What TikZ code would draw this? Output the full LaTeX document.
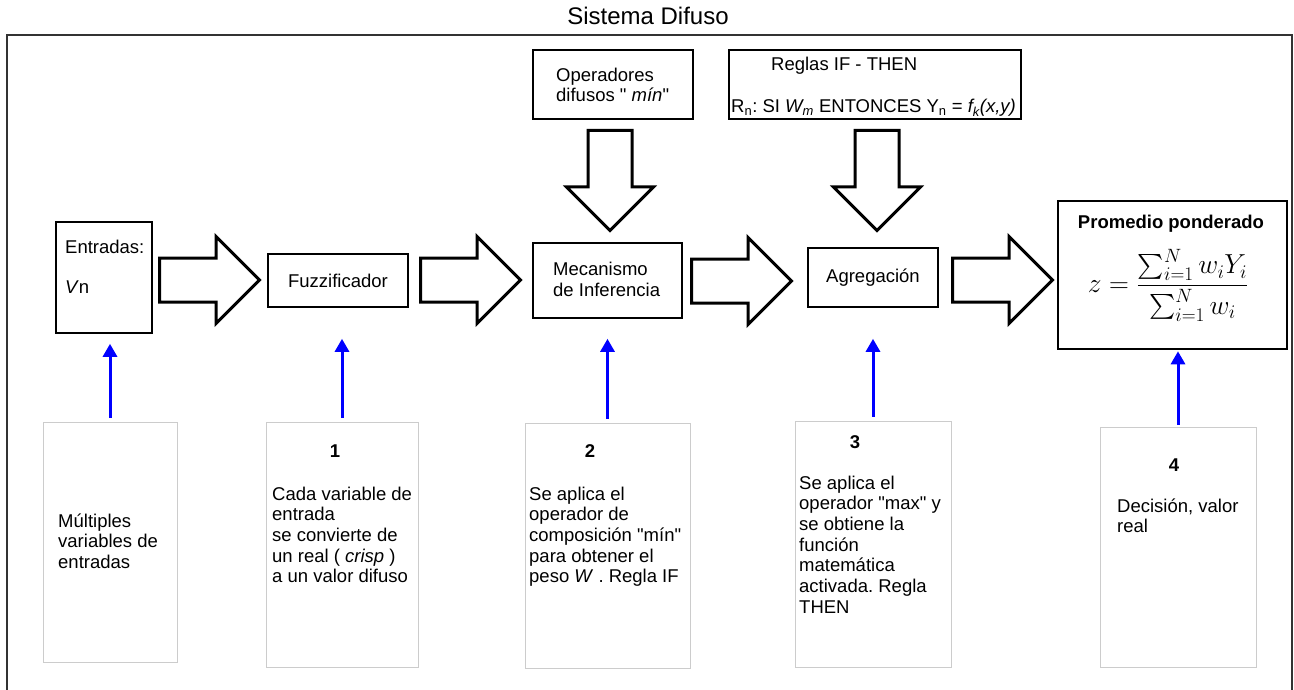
\RequirePackage{fix-cm}
\documentclass[tikz,border=0pt]{standalone}
\usepackage{amsmath}
\usepackage{fontspec}
\setmainfont{Liberation Sans}[Ligatures=TeXOff]
\usetikzlibrary{arrows.meta,shapes.arrows}

\begin{document}
\frenchspacing
\begin{tikzpicture}[x=1pt, y=-1pt,
	font=\fontsize{18.5}{20.7}\selectfont,
	box/.style={draw, line width=1.6pt, inner sep=0pt},
	note/.style={draw=black!20, line width=1pt, inner sep=0pt},
	txt/.style={inner sep=0pt, align=left, anchor=base west},
	num/.style={inner sep=0pt, anchor=base, font=\fontsize{18.5}{20.7}\selectfont\bfseries},
	fat/.style={single arrow, draw, line width=3pt, inner sep=0pt, anchor=tail,
		text height=20.5pt, text depth=20.5pt, single arrow head extend=21.5pt,
		minimum height=100pt},
	up/.style={blue, line width=3pt, -{Triangle[length=13pt, width=14pt]}}]

	\path[use as bounding box, fill=white] (0,0) rectangle (1294,690);
	\node[anchor=base, inner sep=0pt, font=\fontsize{24}{28}\selectfont] (T) at (648,25) {Sistema Difuso};
	\draw[black!80, line width=1.2pt] (7,700) -- (7,35) -- (1292,35) -- (1292,700);

	% upper row (multi-line texts sit on their last baseline)
	\node[box, minimum width=96pt, minimum height=111pt] (E) at (104,277.5) {};
	\node[txt] at (65,293) {Entradas:\\[19pt]\textit{V}n};
	\node[box, minimum width=140pt, minimum height=53pt] (F) at (338,280.5) {Fuzzificador};
	\node[box, minimum width=149pt, minimum height=75pt] (M) at (607.5,280.5) {};
	\node[txt] at (553,296) {Mecanismo\\de Inferencia};
	\node[box, minimum width=130pt, minimum height=59pt] (A) at (873,277.5) {Agregación};
	\node[box, line width=2.6pt, minimum width=229pt, minimum height=148pt] (P) at (1172.5,275) {};
	\node[num] at (1171,228) {Promedio ponderado};
	\node[inner sep=0pt, font=\fontsize{27.5}{32}\selectfont] (Z) at (1168,285)
		{$\displaystyle z=\frac{\sum_{i=1}^{N} w_iY_i}{\sum_{i=1}^{N} w_i}$};

	\node[box, minimum width=160pt, minimum height=69pt] (O) at (613,84.5) {};
	\node[txt] at (556,102) {Operadores\\difusos " \textit{mín}"};
	\node[box, minimum width=292pt, minimum height=69pt] (R) at (875,84.5) {};
	\node[txt] at (771,71) {Reglas IF - THEN};
	\node[txt] at (731,113) {R\textsubscript{n}: SI \textit{W\textsubscript{m}} ENTONCES Y\textsubscript{n} = \textit{f\textsubscript{k}(x,y)}};

	% block arrows
	\node[fat] (a1) at (158,280) {};
	\node[fat] (a2) at (419,280) {};
	\node[fat] (a3) at (690,281) {};
	\node[fat] (a4) at (951,280) {};
	\node[fat, rotate=-90] (d1) at (610,129) {};
	\node[fat, rotate=-90] (d2) at (877,129) {};

	% lower row
	\node[note, minimum width=134pt, minimum height=240pt] (N0) at (110,542) {};
	\node[note, minimum width=152pt, minimum height=245pt] (N1) at (342,544.5) {};
	\node[note, minimum width=165pt, minimum height=245pt] (N2) at (607.5,545.5) {};
	\node[note, minimum width=156pt, minimum height=246pt] (N3) at (873,544) {};
	\node[note, minimum width=156pt, minimum height=240pt] (N4) at (1178,547) {};

	\node[txt] at (58,568.4) {Múltiples\\variables de\\entradas};
	\node[num] at (335,457) {1};
	\node[txt] at (272,582.8) {Cada variable de\\entrada\\se convierte de\\un real ( \textit{crisp} )\\a un valor difuso};
	\node[num] at (590,457) {2};
	\node[txt] at (529,582.8) {Se aplica el\\operador de\\composición "mín"\\para obtener el\\peso \textit{W} . Regla IF};
	\node[num] at (855,448) {3};
	\node[txt] at (799,613.2) {Se aplica el\\operador "max" y\\se obtiene la\\función\\matemática\\activada. Regla\\THEN};
	\node[num] at (1174,471) {4};
	\node[txt] at (1117,532.7) {Decisión, valor\\real};

	\draw[up, shorten <=4pt, shorten >=10pt] (N0.north) -- (N0.north |- E.south);
	\draw[up, shorten <=4pt, shorten >=31pt] (N1.north) -- (N1.north |- F.south);
	\draw[up, shorten <=4pt, shorten >=20pt] (N2.north) -- (N2.north |- M.south);
	\draw[up, shorten <=4pt, shorten >=31pt] (N3.north) -- (N3.north |- A.south);
	\draw[up, shorten <=2pt, shorten >=1pt] (N4.north) -- (N4.north |- P.south);
\end{tikzpicture}
\end{document}
